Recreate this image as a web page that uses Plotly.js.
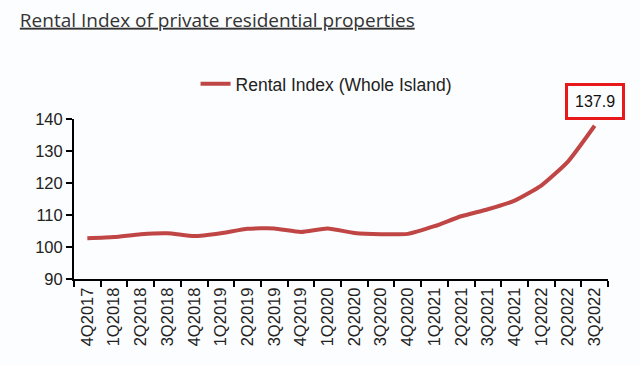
<!DOCTYPE html>
<html><head><meta charset="utf-8">
<script src="https://cdn.plot.ly/plotly-3.0.1.min.js"></script>
<style>body{margin:0;background:#fcfdfe}#c{width:640px;height:365px}</style>
</head><body><div id="c"></div>
<script>
var quarters = ["4Q2017","1Q2018","2Q2018","3Q2018","4Q2018","1Q2019","2Q2019","3Q2019","4Q2019","1Q2020","2Q2020","3Q2020","4Q2020","1Q2021","2Q2021","3Q2021","4Q2021","1Q2022","2Q2022","3Q2022"];
var rentalIndex = [102.7,103.1,104.0,104.3,103.4,104.3,105.7,105.8,104.7,105.8,104.4,104.0,104.1,106.5,109.6,111.8,114.5,119.2,126.7,137.9];
var seriesName = "Rental Index (Whole Island)";
var lastLabel = "137.9";

Plotly.newPlot("c", [{
  x: quarters, y: rentalIndex, type: "scatter", mode: "lines",
  name: seriesName,
  line: {color: "#bf4644", width: 4, shape: "spline", smoothing: 0.5}
}], {
  width: 640, height: 365,
  paper_bgcolor: "#fcfdfe", plot_bgcolor: "#fcfdfe",
  margin: {l: 74, r: 32, t: 119, b: 86},
  font: {family: "Liberation Sans, Arial, sans-serif", color: "#111"},
  title: {text: "<u>Rental Index of private residential properties</u>", x: 0.031, xanchor: "left", y: 0.945, yanchor: "middle",
          font: {family: "Open Sans, sans-serif", size: 19, color: "#333"}},
  showlegend: true,
  legend: {orientation: "h", x: 0.472, xanchor: "center", y: 1.22, yanchor: "middle",
           font: {size: 17.5, color: "#222"}, bgcolor: "rgba(0,0,0,0)"},
  xaxis: {type: "category", showline: true, linecolor: "#000", linewidth: 2, ticks: "outside",
          tickson: "boundaries", ticklen: 6, tickwidth: 2, tickcolor: "#000",
          tickangle: -90, tickfont: {size: 16.5, color: "#222"}, showgrid: false, zeroline: false,
          range: [-0.5, 19.5]},
  yaxis: {range: [90, 140], dtick: 10, showline: true, linecolor: "#000", linewidth: 2,
          ticks: "outside", ticklen: 6, tickwidth: 2, tickcolor: "#000",
          tickfont: {size: 16.5, color: "#222"}, showgrid: false, zeroline: false},
  annotations: [{x: quarters[quarters.length-1], y: rentalIndex[rentalIndex.length-1], xref: "x", yref: "y",
     text: lastLabel, showarrow: false, yshift: 24, font: {size: 16, color: "#111"},
     bordercolor: "#e8191b", borderwidth: 3, borderpad: 7, bgcolor: "#fcfdfe"}]
}, {displayModeBar: false});
</script></body></html>
